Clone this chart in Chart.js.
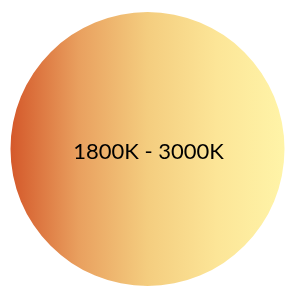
<!DOCTYPE html>
<html>
<head>
<meta charset="utf-8">
<script src="https://cdn.jsdelivr.net/npm/chart.js@4/dist/chart.umd.min.js"></script>
<style>
  html, body { margin: 0; padding: 0; background: #fff; }
  #wrap { width: 285px; height: 286px; position: relative; }
</style>
</head>
<body>
<div id="wrap"><canvas id="myChart"></canvas></div>
<script>
// data
const labels = ['1800K - 3000K'];
const values = [1];
// gradient kiri ke kanan (oranye tua -> kuning pucat)
const gradientStops = [0, 0.25, 0.5, 0.75, 1];
const gradientColors = ['#d4582a', '#e9a05f', '#f4cd7f', '#fce597', '#fff4a8'];

function makeGradient(chart) {
    const area = chart.chartArea;
    if (!area) return gradientColors[0];
    const g = chart.ctx.createLinearGradient(area.left, 0, area.right, 0);
    gradientStops.forEach((s, i) => g.addColorStop(s, gradientColors[i]));
    return g;
}

// plugin untuk teks di tengah lingkaran
const centerText = {
    id: 'centerText',
    afterDatasetsDraw(chart) {
        const meta = chart.getDatasetMeta(0);
        const arc = meta.data[0];
        if (!arc) return;
        const ctx = chart.ctx;
        ctx.save();
        ctx.font = '22px Lato, "Noto Sans", sans-serif';
        ctx.fillStyle = '#000';
        ctx.textAlign = 'center';
        ctx.textBaseline = 'middle';
        ctx.fillText(chart.data.labels[0], arc.x + 1, arc.y + 3);
        ctx.restore();
    }
};

new Chart(document.getElementById('myChart').getContext('2d'), {
    type: 'pie',
    data: {
        labels: labels,
        datasets: [{
            data: values,
            backgroundColor: function (context) {
                return makeGradient(context.chart);
            },
            borderWidth: 0
        }]
    },
    options: {
        responsive: true,
        maintainAspectRatio: false,
        animation: false,
        layout: { padding: { left: 10, top: 12, right: 0, bottom: 0 } },
        plugins: {
            legend: { display: false },
            tooltip: { enabled: false }
        }
    },
    plugins: [centerText]
});
</script>
</body>
</html>
